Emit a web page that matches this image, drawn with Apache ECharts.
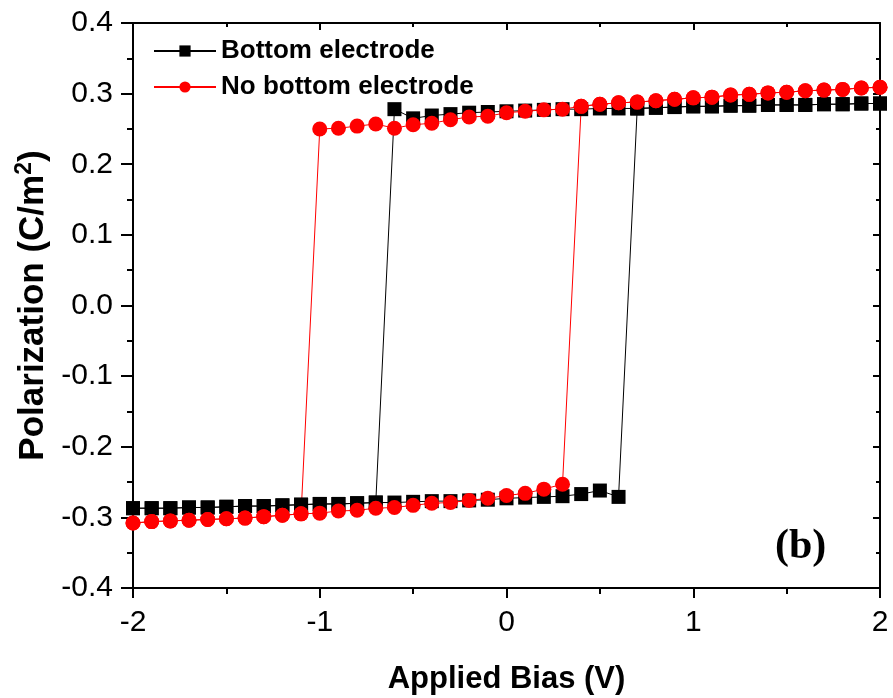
<!DOCTYPE html>
<html>
<head>
<meta charset="utf-8">
<script src="https://cdn.jsdelivr.net/npm/echarts@6/dist/echarts.min.js"></script>
<style>
  html, body { margin: 0; padding: 0; background: #fff; }
  #chart { width: 893px; height: 698px; }
</style>
</head>
<body>
<div id="chart"></div>
<script>
// bottom electrode: lower branch (sweep up) and upper branch
var blackLowerX = [-2, -1.9, -1.8, -1.7, -1.6, -1.5, -1.4, -1.3, -1.2, -1.1, -1.0, -0.9, -0.8, -0.7, -0.6, -0.5, -0.4, -0.3, -0.2, -0.1, 0, 0.1, 0.2, 0.3, 0.4, 0.5, 0.6];
var blackLowerY = [-0.287, -0.287, -0.287, -0.286, -0.286, -0.285, -0.284, -0.284, -0.283, -0.282, -0.281, -0.281, -0.280, -0.279, -0.279, -0.278, -0.277, -0.277, -0.276, -0.275, -0.273, -0.272, -0.271, -0.270, -0.267, -0.262, -0.271];
var blackUpperX = [-0.6, -0.5, -0.4, -0.3, -0.2, -0.1, 0, 0.1, 0.2, 0.3, 0.4, 0.5, 0.6, 0.7, 0.8, 0.9, 1.0, 1.1, 1.2, 1.3, 1.4, 1.5, 1.6, 1.7, 1.8, 1.9, 2];
var blackUpperY = [0.278, 0.265, 0.269, 0.271, 0.273, 0.274, 0.275, 0.276, 0.277, 0.278, 0.278, 0.279, 0.279, 0.279, 0.280, 0.281, 0.282, 0.282, 0.283, 0.283, 0.284, 0.284, 0.284, 0.285, 0.285, 0.286, 0.286];

// no bottom electrode
var redLowerX = [-2, -1.9, -1.8, -1.7, -1.6, -1.5, -1.4, -1.3, -1.2, -1.1, -1.0, -0.9, -0.8, -0.7, -0.6, -0.5, -0.4, -0.3, -0.2, -0.1, 0, 0.1, 0.2, 0.3];
var redLowerY = [-0.308, -0.306, -0.305, -0.304, -0.303, -0.302, -0.301, -0.299, -0.297, -0.295, -0.294, -0.291, -0.290, -0.287, -0.286, -0.283, -0.280, -0.279, -0.276, -0.273, -0.269, -0.266, -0.260, -0.253];
var redUpperX = [-1.0, -0.9, -0.8, -0.7, -0.6, -0.5, -0.4, -0.3, -0.2, -0.1, 0, 0.1, 0.2, 0.3, 0.4, 0.5, 0.6, 0.7, 0.8, 0.9, 1.0, 1.1, 1.2, 1.3, 1.4, 1.5, 1.6, 1.7, 1.8, 1.9, 2];
var redUpperY = [0.250, 0.251, 0.254, 0.257, 0.251, 0.256, 0.258, 0.263, 0.267, 0.268, 0.273, 0.275, 0.277, 0.278, 0.282, 0.285, 0.287, 0.288, 0.290, 0.292, 0.294, 0.295, 0.298, 0.299, 0.301, 0.302, 0.304, 0.305, 0.306, 0.308, 0.309];

var seriesNames = ['Bottom electrode', 'No bottom electrode'];
var xTicks = [-2, -1, 0, 1, 2];

// sweep 2 -> -2 along the upper branch, then -2 -> 2 along the lower one
function loop(lx, ly, ux, uy) {
  var pts = [], i;
  for (i = ux.length - 1; i >= 0; i--) pts.push([ux[i], uy[i]]);
  for (i = lx.length - 1; i >= 0; i--) if (lx[i] < ux[0]) pts.push([lx[i], ly[i]]);
  for (i = 0; i < lx.length; i++) pts.push([lx[i], ly[i]]);
  for (i = 0; i < ux.length; i++) if (ux[i] > lx[lx.length - 1]) pts.push([ux[i], uy[i]]);
  return pts;
}

var font = 'Liberation Sans, Arial, sans-serif';
var chart = echarts.init(document.getElementById('chart'));

function frameAxis(pos) {
  return {
    type: 'value',
    position: pos,
    axisLine: { show: true, onZero: false, lineStyle: { color: '#000', width: 2 } },
    axisTick: { show: true, inside: true, length: 7, lineStyle: { color: '#000', width: 2 } },
    minorTick: { show: true, splitNumber: 2, length: 4, lineStyle: { color: '#000', width: 2 } },
    axisLabel: { show: false },
    splitLine: { show: false }
  };
}

var topAxis = frameAxis('top');
topAxis.min = xTicks[0]; topAxis.max = xTicks[xTicks.length - 1]; topAxis.interval = 1;
var rightAxis = frameAxis('right');
rightAxis.min = -0.4; rightAxis.max = 0.4; rightAxis.interval = 0.1;

var option = {
  animation: false,
  backgroundColor: '#fff',
  grid: { left: 133, right: 13, top: 23, bottom: 110, outerBoundsMode: 'none', containLabel: false },
  legend: {
    orient: 'vertical',
    left: 148,
    top: 33,
    itemWidth: 62,
    itemHeight: 14,
    itemGap: 10,
    data: seriesNames,
    textStyle: { color: '#000', fontSize: 26, fontWeight: 'bold', fontFamily: font, padding: [0, 0, 0, 0] }
  },
  xAxis: [{
    type: 'value',
    min: xTicks[0],
    max: xTicks[xTicks.length - 1],
    interval: 1,
    name: 'Applied Bias (V)',
    nameLocation: 'middle',
    nameGap: 76,
    nameTextStyle: { color: '#000', fontSize: 31, fontWeight: 'bold', fontFamily: font },
    axisLine: { show: true, onZero: false, lineStyle: { color: '#000', width: 2 } },
    axisTick: { show: true, length: 10, lineStyle: { color: '#000', width: 2 } },
    minorTick: { show: true, splitNumber: 2, length: 6, lineStyle: { color: '#000', width: 2 } },
    axisLabel: { color: '#000', fontSize: 30, fontFamily: font, margin: 20 },
    splitLine: { show: false }
  }, topAxis],
  yAxis: [{
    type: 'value',
    min: -0.4,
    max: 0.4,
    interval: 0.1,
    name: '{a|Polarization (C/m}{s|2}{a|)}',
    nameLocation: 'middle',
    nameGap: 70,
    nameTextStyle: {
      color: '#000',
      rich: {
        a: { fontSize: 35, fontWeight: 'bold', fontFamily: font, color: '#000', lineHeight: 40 },
        s: { fontSize: 23, fontWeight: 'bold', fontFamily: font, color: '#000', verticalAlign: 'top', lineHeight: 40 }
      }
    },
    axisLine: { show: true, onZero: false, lineStyle: { color: '#000', width: 2 } },
    axisTick: { show: true, length: 12, lineStyle: { color: '#000', width: 2 } },
    minorTick: { show: true, splitNumber: 2, length: 6, lineStyle: { color: '#000', width: 2 } },
    axisLabel: {
      color: '#000', fontSize: 30, fontFamily: font, margin: 20,
      formatter: function (v) { return Math.abs(v) < 1e-9 ? '0.0' : v.toFixed(1); }
    },
    splitLine: { show: false }
  }, rightAxis],
  graphic: [{
    type: 'text',
    left: 775,
    top: 526,
    style: { text: '(b)', fontSize: 42, fontWeight: 'bold', fontFamily: 'Liberation Serif, Times New Roman, serif', fill: '#000' }
  }],
  series: [{
    name: seriesNames[0],
    type: 'line',
    data: loop(blackLowerX, blackLowerY, blackUpperX, blackUpperY),
    symbol: 'rect',
    symbolSize: 14,
    lineStyle: { color: '#000', width: 1 },
    itemStyle: { color: '#000' }
  }, {
    name: seriesNames[1],
    type: 'line',
    data: loop(redLowerX, redLowerY, redUpperX, redUpperY),
    symbol: 'circle',
    symbolSize: 15,
    lineStyle: { color: '#ff0000', width: 1 },
    itemStyle: { color: '#ff0000' }
  }]
};
chart.setOption(option);
</script>
</body>
</html>
